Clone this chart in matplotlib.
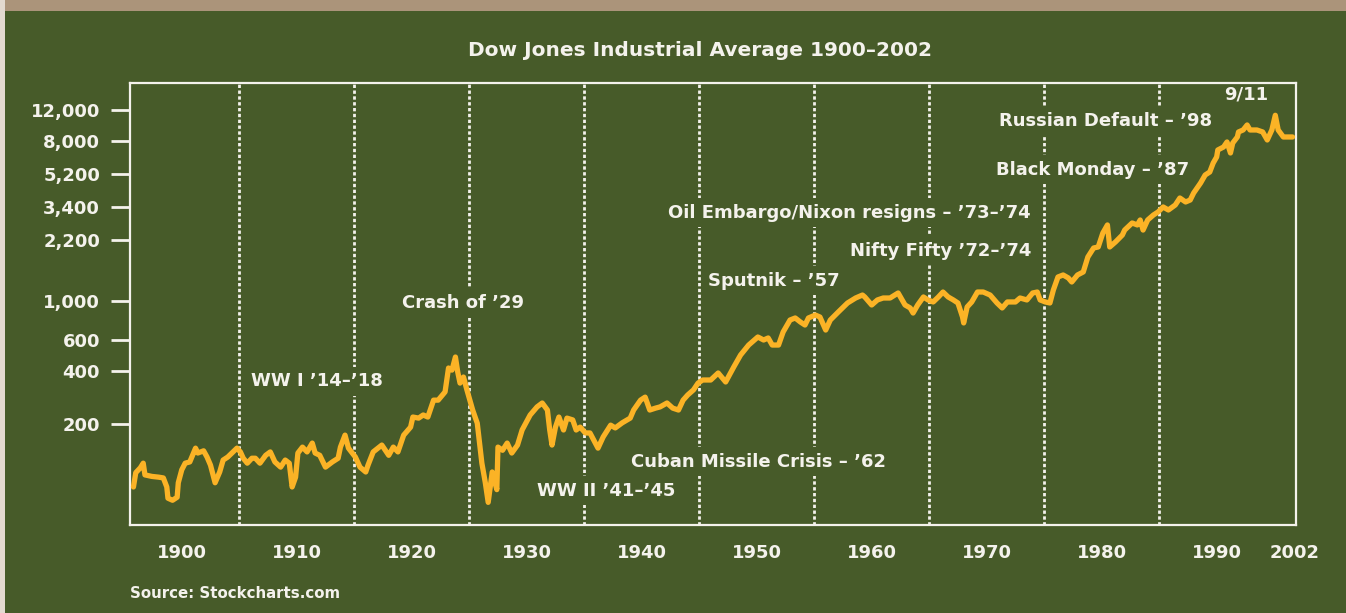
import matplotlib
matplotlib.use("Agg")
import matplotlib.pyplot as plt
from matplotlib.patches import Rectangle

# Dow Jones Industrial Average
years = [1900.8, 1901.0, 1901.4, 1901.65, 1901.8, 1902.4, 1903.0, 1903.4, 1903.7, 1903.8,
         1904.2, 1904.6, 1904.7, 1905.0, 1905.3, 1905.7, 1906.2, 1906.4, 1906.9, 1907.2,
         1907.5, 1907.9, 1908.3, 1908.6, 1909.0, 1909.8, 1910.1, 1910.35, 1910.7, 1911.1,
         1911.4, 1911.8, 1912.3, 1912.7, 1913.1, 1913.6, 1914.0, 1914.35, 1914.6, 1914.9,
         1915.1, 1915.5, 1915.9, 1916.35, 1916.6, 1917.0, 1917.5, 1918.1, 1918.6, 1918.8,
         1919.2, 1919.5, 1920.1, 1920.5, 1921.0, 1921.2, 1921.65, 1922.4, 1923.0, 1923.4,
         1923.8, 1924.3, 1924.9, 1925.1, 1925.6, 1926.0, 1926.4, 1926.9, 1927.3, 1927.9,
         1928.2, 1928.5, 1928.8, 1929.0, 1929.2, 1929.5, 1929.8, 1930.3, 1930.7, 1931.1,
         1931.4, 1931.65, 1932.0, 1932.4, 1932.5, 1932.9, 1933.3, 1933.7, 1934.2, 1934.6,
         1935.3, 1935.9, 1936.35, 1936.8, 1937.0, 1937.2, 1937.5, 1937.8, 1938.2, 1938.5,
         1939.0, 1939.3, 1939.65, 1940.1, 1940.5, 1941.2, 1941.65, 1942.3, 1942.7, 1943.3,
         1944.0, 1944.3, 1944.9, 1945.3, 1945.7, 1946.2, 1946.6, 1947.2, 1947.7, 1948.2,
         1948.6, 1949.0, 1949.5, 1949.9, 1950.3, 1951.0, 1951.65, 1952.3, 1953.0, 1953.6,
         1954.3, 1955.1, 1955.6, 1956.0, 1956.35, 1956.9, 1957.3, 1957.9, 1958.35, 1958.8,
         1959.2, 1959.5, 1960.1, 1960.5, 1961.0, 1961.4, 1962.1, 1962.9, 1963.6, 1964.2,
         1964.4, 1965.0, 1965.5, 1966.0, 1966.6, 1967.3, 1967.9, 1968.35, 1968.6, 1969.0,
         1969.5, 1969.9, 1970.35, 1970.8, 1971.2, 1971.65, 1972.1, 1972.5, 1972.9, 1973.0,
         1973.3, 1973.7, 1974.2, 1974.7, 1975.3, 1975.9, 1976.35, 1976.8, 1977.5, 1977.9,
         1978.5, 1979.0, 1979.4, 1979.65, 1980.1, 1980.5, 1980.8, 1981.2, 1981.65, 1982.1,
         1982.4, 1982.9, 1983.4, 1983.8, 1984.3, 1984.7, 1985.1, 1985.5, 1985.7, 1986.2,
         1986.8, 1987.0, 1987.65, 1988.1, 1988.35, 1988.6, 1989.0, 1989.5, 1989.9, 1990.35,
         1990.8, 1991.4, 1991.8, 1992.3, 1992.7, 1993.0, 1993.6, 1994.0, 1994.4, 1994.7,
         1995.0, 1995.1, 1995.6, 1995.9, 1996.2, 1996.4, 1996.8, 1996.9, 1997.3, 1997.65,
         1997.9, 1998.5, 1999.0, 1999.4, 1999.8, 2000.1, 2000.35, 2000.8, 2001.2, 2001.6]
dow = [88, 106, 113, 120, 103, 101, 100, 99, 88, 76,
       74, 77, 93, 110, 120, 122, 146, 137, 141, 130,
       117, 93, 107, 125, 130, 146, 139, 128, 120, 128,
       128, 120, 133, 139, 122, 114, 125, 120, 88, 100,
       137, 148, 139, 156, 137, 133, 114, 122, 128, 148,
       173, 146, 130, 114, 107, 117, 139, 152, 133, 148,
       139, 173, 192, 219, 216, 225, 219, 273, 273, 304,
       415, 404, 479, 394, 341, 369, 312, 240, 202, 120,
       93, 72, 107, 85, 148, 142, 156, 137, 152, 185,
       225, 250, 263, 240, 185, 152, 192, 219, 185, 216,
       211, 185, 192, 178, 178, 146, 169, 197, 190, 203,
       216, 240, 273, 284, 240, 246, 250, 263, 246, 240,
       273, 292, 312, 341, 355, 355, 389, 346, 420, 492,
       560, 622, 598, 614, 560, 560, 664, 776, 797, 756,
       727, 797, 828, 807, 681, 776, 862, 969, 1034, 1075,
       1048, 944, 1008, 1034, 1034, 1104, 944, 908, 850, 944,
       1048, 1008, 982, 1048, 1118, 1048, 1008, 969, 807, 747,
       920, 982, 1118, 1118, 1075, 969, 908, 982, 982, 1034,
       1008, 1104, 1118, 1008, 982, 969, 1148, 1360, 1396, 1343,
       1274, 1396, 1452, 1765, 1985, 2011, 2411, 2680, 2011, 2147,
       2351, 2508, 2750, 2680, 2860, 2508, 2860, 3052, 3173, 3387,
       3257, 3477, 3809, 3616, 3711, 4066, 4631, 5140, 5346, 6012,
       6502, 7124, 7406, 7908, 6850, 7804, 8440, 9010, 9246, 9868,
       9246, 9246, 9010, 8116, 9246, 11200, 9246, 8440, 8440, 8440]

y_ticks = [200, 400, 600, 1000, 2200, 3400, 5200, 8000, 12000]
y_labels = ["200", "400", "600", "1,000", "2,200", "3,400", "5,200", "8,000", "12,000"]
x_ticks = [1905, 1915, 1925, 1935, 1945, 1955, 1965, 1975, 1985, 1995, 2001.8]
x_labels = ["1900", "1910", "1920", "1930", "1940", "1950", "1960", "1970", "1980", "1990", "2002"]
decades = [1910, 1920, 1930, 1940, 1950, 1960, 1970, 1980, 1990]

# (text, x, y) in axes fraction
events = [
    ("WW I \u201914\u2013\u201918", 0.160, 0.325),
    ("Crash of \u201929", 0.2856, 0.503),
    ("WW II \u201941\u2013\u201945", 0.4082, 0.078),
    ("Cuban Missile Crisis \u2013 \u201962", 0.5386, 0.143),
    ("Sputnik \u2013 \u201957", 0.5523, 0.553),
    ("Nifty Fifty \u201972\u2013\u201974", 0.6955, 0.621),
    ("Oil Embargo/Nixon resigns \u2013 \u201973\u2013\u201974", 0.6171, 0.707),
    ("Black Monday \u2013 \u201987", 0.8259, 0.804),
    ("Russian Default \u2013 \u201998", 0.8366, 0.915),
    ("9/11", 0.9575, 0.974),
]

bg = "#475b29"
fg = "#f4f2ec"
orange = "#fbb326"

plt.rcParams['font.family'] = 'DejaVu Sans'
plt.rcParams['font.weight'] = 'bold'

fig = plt.figure(figsize=(13.46, 6.13), dpi=100)
fig.patch.set_facecolor(bg)
fig.add_artist(Rectangle((0, 1 - 10.5 / 613), 1, 10.5 / 613, transform=fig.transFigure,
                         facecolor="#ab947a", edgecolor="none"))
fig.add_artist(Rectangle((0, 0), 5 / 1346, 1, transform=fig.transFigure,
                         facecolor="#e3dad0", edgecolor="none"))

ax = fig.add_axes([130 / 1346, 88 / 613, 1166 / 1346, 442 / 613])
ax.set_facecolor(bg)
ax.set_yscale('log')
ax.set_xlim(1900.5, 2001.9)
ax.set_ylim(53.6, 17060)

for d in decades:
    ax.axvline(d, color=fg, lw=2.0, linestyle=(0, (1.2, 0.9)), zorder=1)

ax.plot(years, dow, color=orange, lw=3.8, solid_joinstyle='round', solid_capstyle='round', zorder=3)

for label, tx, ty in events:
    ax.text(tx, ty, label, transform=ax.transAxes, ha='center', va='center',
            color=fg, fontsize=13, fontweight='bold', zorder=2,
            bbox=dict(facecolor=bg, edgecolor='none', pad=4))

ax.set_yticks(y_ticks)
ax.set_yticklabels(y_labels)
ax.yaxis.set_minor_locator(matplotlib.ticker.NullLocator())
ax.set_xticks(x_ticks)
ax.set_xticklabels(x_labels)
ax.tick_params(axis='y', length=13.5, width=2, color=fg, pad=8, labelsize=13, labelcolor=fg)
ax.tick_params(axis='x', length=0, pad=14, labelsize=13, labelcolor=fg)
for s in ax.spines.values():
    s.set_color(fg)
    s.set_linewidth(1.6)

fig.text(700 / 1346, 1 - 50 / 613, "Dow Jones Industrial Average 1900\u20132002",
         ha='center', va='center', color=fg, fontsize=14.5, fontweight='bold')
fig.text(130 / 1346, 1 - 593 / 613, "Source: Stockcharts.com",
         ha='left', va='center', color=fg, fontsize=10.8, fontweight='bold')

fig.savefig("out.png", dpi=100, facecolor=bg)
